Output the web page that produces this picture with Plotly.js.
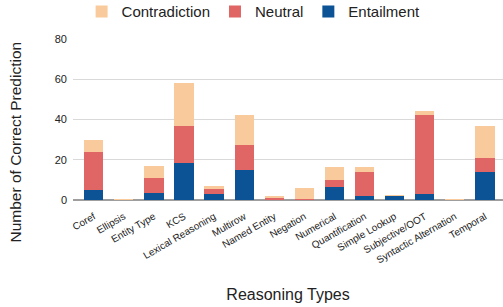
<!DOCTYPE html>
<html>
<head>
<meta charset="utf-8">
<script src="https://cdn.plot.ly/plotly-3.0.1.min.js"></script>
<style>html,body{margin:0;padding:0;background:#fff;}#chart{width:503px;height:307px;}</style>
</head>
<body>
<div id="chart"></div>
<script>
const categories = ["Coref","Ellipsis","Entity Type","KCS","Lexical Reasoning","Multirow","Named Entity","Negation","Numerical","Quantification","Simple Lookup","Subjective/OOT","Syntactic Alternation","Temporal"];
const entailment    = [5, 0, 3.5, 18.4, 3.1, 14.9, 0, 0, 6.4, 2, 2.1, 3, 0, 13.9];
const neutral       = [19, 0, 7.5, 18.3, 2.4, 12.2, 1, 0.4, 3.5, 11.9, 0, 39.2, 0, 7.1];
const contradiction = [6, 0.5, 6, 21.2, 1.4, 14.9, 1.1, 5.6, 6.5, 2.5, 0.4, 1.8, 0.4, 15.9];

const seriesNames = ["Entailment","Neutral","Contradiction"];
const seriesColors = ["#0b5394","#e06666","#f9cb9c"];
const seriesValues = [entailment, neutral, contradiction];

const traces = seriesValues.map((vals, i) => ({
  type: "bar", name: seriesNames[i], x: categories, y: vals,
  marker: {color: seriesColors[i]}, hoverinfo: "none"
}));

const layout = {
  width: 503, height: 307,
  margin: {l: 73, r: 0, t: 39, b: 107, pad: 0, autoexpand: false},
  paper_bgcolor: "#fff", plot_bgcolor: "#fff",
  barmode: "stack", bargap: 0.36,
  font: {family: "Liberation Sans, Arial, sans-serif", color: "#222"},
  showlegend: true,
  legend: {orientation: "h", traceorder: "reversed", x: 0.42, xanchor: "center", y: 1.17, yanchor: "middle", font: {size: 15, color: "#222"}, itemwidth: 30},
  xaxis: {type: "category", range: [-0.688, 13.6], tickangle: -30, tickfont: {size: 10, color: "#222"},
    showgrid: false, ticks: "outside", ticklen: 6, tickcolor: "rgba(0,0,0,0)", showline: false, zeroline: false,
    title: {text: "Reasoning Types", font: {size: 16, color: "#222"}, standoff: 24}},
  yaxis: {range: [0, 80], tickvals: [0, 20, 40, 60, 80], tickfont: {size: 11, color: "#222"}, ticklabelstandoff: 5,
    gridcolor: "#d9d9d9", gridwidth: 1, zeroline: true, zerolinecolor: "#9e9e9e", zerolinewidth: 1.5, showline: false, ticks: ""},
  annotations: [{text: "Number of Correct Prediction", textangle: -90, xref: "paper", yref: "paper",
    x: -0.1326, y: 0.363, xanchor: "center", yanchor: "middle", showarrow: false, font: {size: 15.5, color: "#222"}}]
};

Plotly.newPlot("chart", traces, layout, {displayModeBar: false, staticPlot: true});
</script>
</body>
</html>
